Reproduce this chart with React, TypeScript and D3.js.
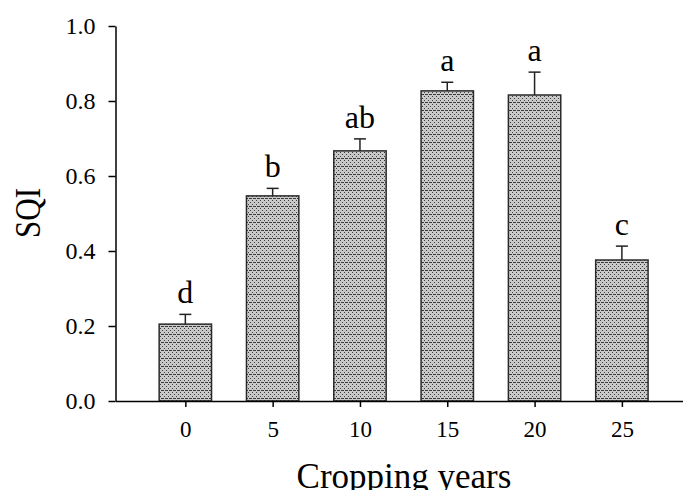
import React from 'react';
import * as d3 from 'd3';

// Cropping years and the soil quality index for each
const years = [0, 5, 10, 15, 20, 25];
const sqiMeans = [0.205, 0.547, 0.667, 0.827, 0.816, 0.376];
const sqiErrors = [0.026, 0.02, 0.032, 0.023, 0.061, 0.037];
const groupLetters = ['d', 'b', 'ab', 'a', 'a', 'c'];
const yTicks = [0, 0.2, 0.4, 0.6, 0.8, 1.0];

const FONT = '"Times New Roman", "Liberation Serif", serif';

const App = () => {
  const svgRef = React.useRef<SVGSVGElement | null>(null);
  const width = 683;
  const height = 490;

  React.useEffect(() => {
    const svg = d3.select(svgRef.current);
    svg.selectAll('*').remove();

    const x = d3.scaleLinear().domain([-4, 28.5]).range([115.5, 683]);
    const y = d3.scaleLinear().domain([0, 1]).range([401, 26]);
    const barW = x(3) - x(0);

    // dotted grey fill
    const defs = svg.append('defs');
    const pat = defs
      .append('pattern')
      .attr('id', 'dots')
      .attr('patternUnits', 'userSpaceOnUse')
      .attr('width', 4)
      .attr('height', 8);
    pat.append('rect').attr('width', 4).attr('height', 8).attr('fill', '#c9c9c9');
    [[0, 0], [2, 2], [0, 4], [2, 6], [1, 6], [3, 6]].forEach(([px, py]) => {
      pat.append('rect').attr('x', px).attr('y', py).attr('width', 1).attr('height', 1).attr('fill', '#3a3a3a');
    });

    const data = years.map((yr, i) => ({
      yr,
      mean: sqiMeans[i],
      err: sqiErrors[i],
      letter: groupLetters[i],
    }));

    // bars
    svg
      .append('g')
      .selectAll('rect')
      .data(data)
      .enter()
      .append('rect')
      .attr('x', d => x(d.yr) - barW / 2)
      .attr('y', d => y(d.mean))
      .attr('width', barW)
      .attr('height', d => y(0) - y(d.mean))
      .attr('fill', 'url(#dots)')
      .attr('stroke', '#2a2a2a')
      .attr('stroke-width', 1.5);

    // error bars (upper only)
    const eb = svg.append('g').attr('stroke', '#222').attr('stroke-width', 1.5);
    eb.selectAll('line.v')
      .data(data)
      .enter()
      .append('line')
      .attr('class', 'v')
      .attr('x1', d => x(d.yr))
      .attr('x2', d => x(d.yr))
      .attr('y1', d => y(d.mean))
      .attr('y2', d => y(d.mean + d.err));
    eb.selectAll('line.c')
      .data(data)
      .enter()
      .append('line')
      .attr('class', 'c')
      .attr('x1', d => x(d.yr) - 6)
      .attr('x2', d => x(d.yr) + 6)
      .attr('y1', d => y(d.mean + d.err))
      .attr('y2', d => y(d.mean + d.err));

    // significance letters
    svg
      .append('g')
      .selectAll('text')
      .data(data)
      .enter()
      .append('text')
      .attr('x', d => x(d.yr))
      .attr('y', d => y(d.mean + d.err) - 11)
      .attr('text-anchor', 'middle')
      .style('font-family', FONT)
      .style('font-size', '32px')
      .style('fill', '#000')
      .text(d => d.letter);

    // y axis
    const yAxis = svg
      .append('g')
      .attr('transform', `translate(${x(-4)},0)`)
      .call(
        d3.axisLeft(y)
          .tickValues(yTicks)
          .tickFormat(d3.format('.1f'))
          .tickSize(7)
          .tickPadding(13)
          .tickSizeOuter(0)
      );
    yAxis.select('.domain').attr('stroke', '#000').attr('stroke-width', 1.5);
    yAxis.selectAll('.tick line').attr('stroke', '#000').attr('stroke-width', 1.5);
    yAxis.selectAll('.tick text')
      .style('font-family', FONT)
      .style('font-size', '24px')
      .attr('fill', '#000');

    // x axis
    const xAxis = svg
      .append('g')
      .attr('transform', `translate(0,${y(0)})`)
      .call(
        d3.axisBottom(x)
          .tickValues(years)
          .tickFormat(d3.format('d'))
          .tickSize(6)
          .tickPadding(14)
          .tickSizeOuter(0)
      );
    xAxis.select('.domain').attr('stroke', '#000').attr('stroke-width', 1.5);
    xAxis.selectAll('.tick line').attr('stroke', '#000').attr('stroke-width', 1.5);
    xAxis.selectAll('.tick text')
      .style('font-family', FONT)
      .style('font-size', '23px')
      .attr('fill', '#000');

    // axis titles
    svg
      .append('text')
      .attr('x', 404)
      .attr('y', 488)
      .attr('text-anchor', 'middle')
      .style('font-family', FONT)
      .style('font-size', '35px')
      .text('Cropping years');

    svg
      .append('text')
      .attr('transform', 'translate(40,213) rotate(-90)')
      .attr('text-anchor', 'middle')
      .attr('textLength', 50)
      .attr('lengthAdjust', 'spacingAndGlyphs')
      .style('font-family', FONT)
      .style('font-size', '36px')
      .text('SQI');
  }, []);

  return (
    <svg
      ref={svgRef}
      width={width}
      height={height}
      viewBox={`0 0 ${width} ${height}`}
      style={{ position: 'absolute', left: 0, top: 0, background: '#fff' }}
    />
  );
};

export default App;
